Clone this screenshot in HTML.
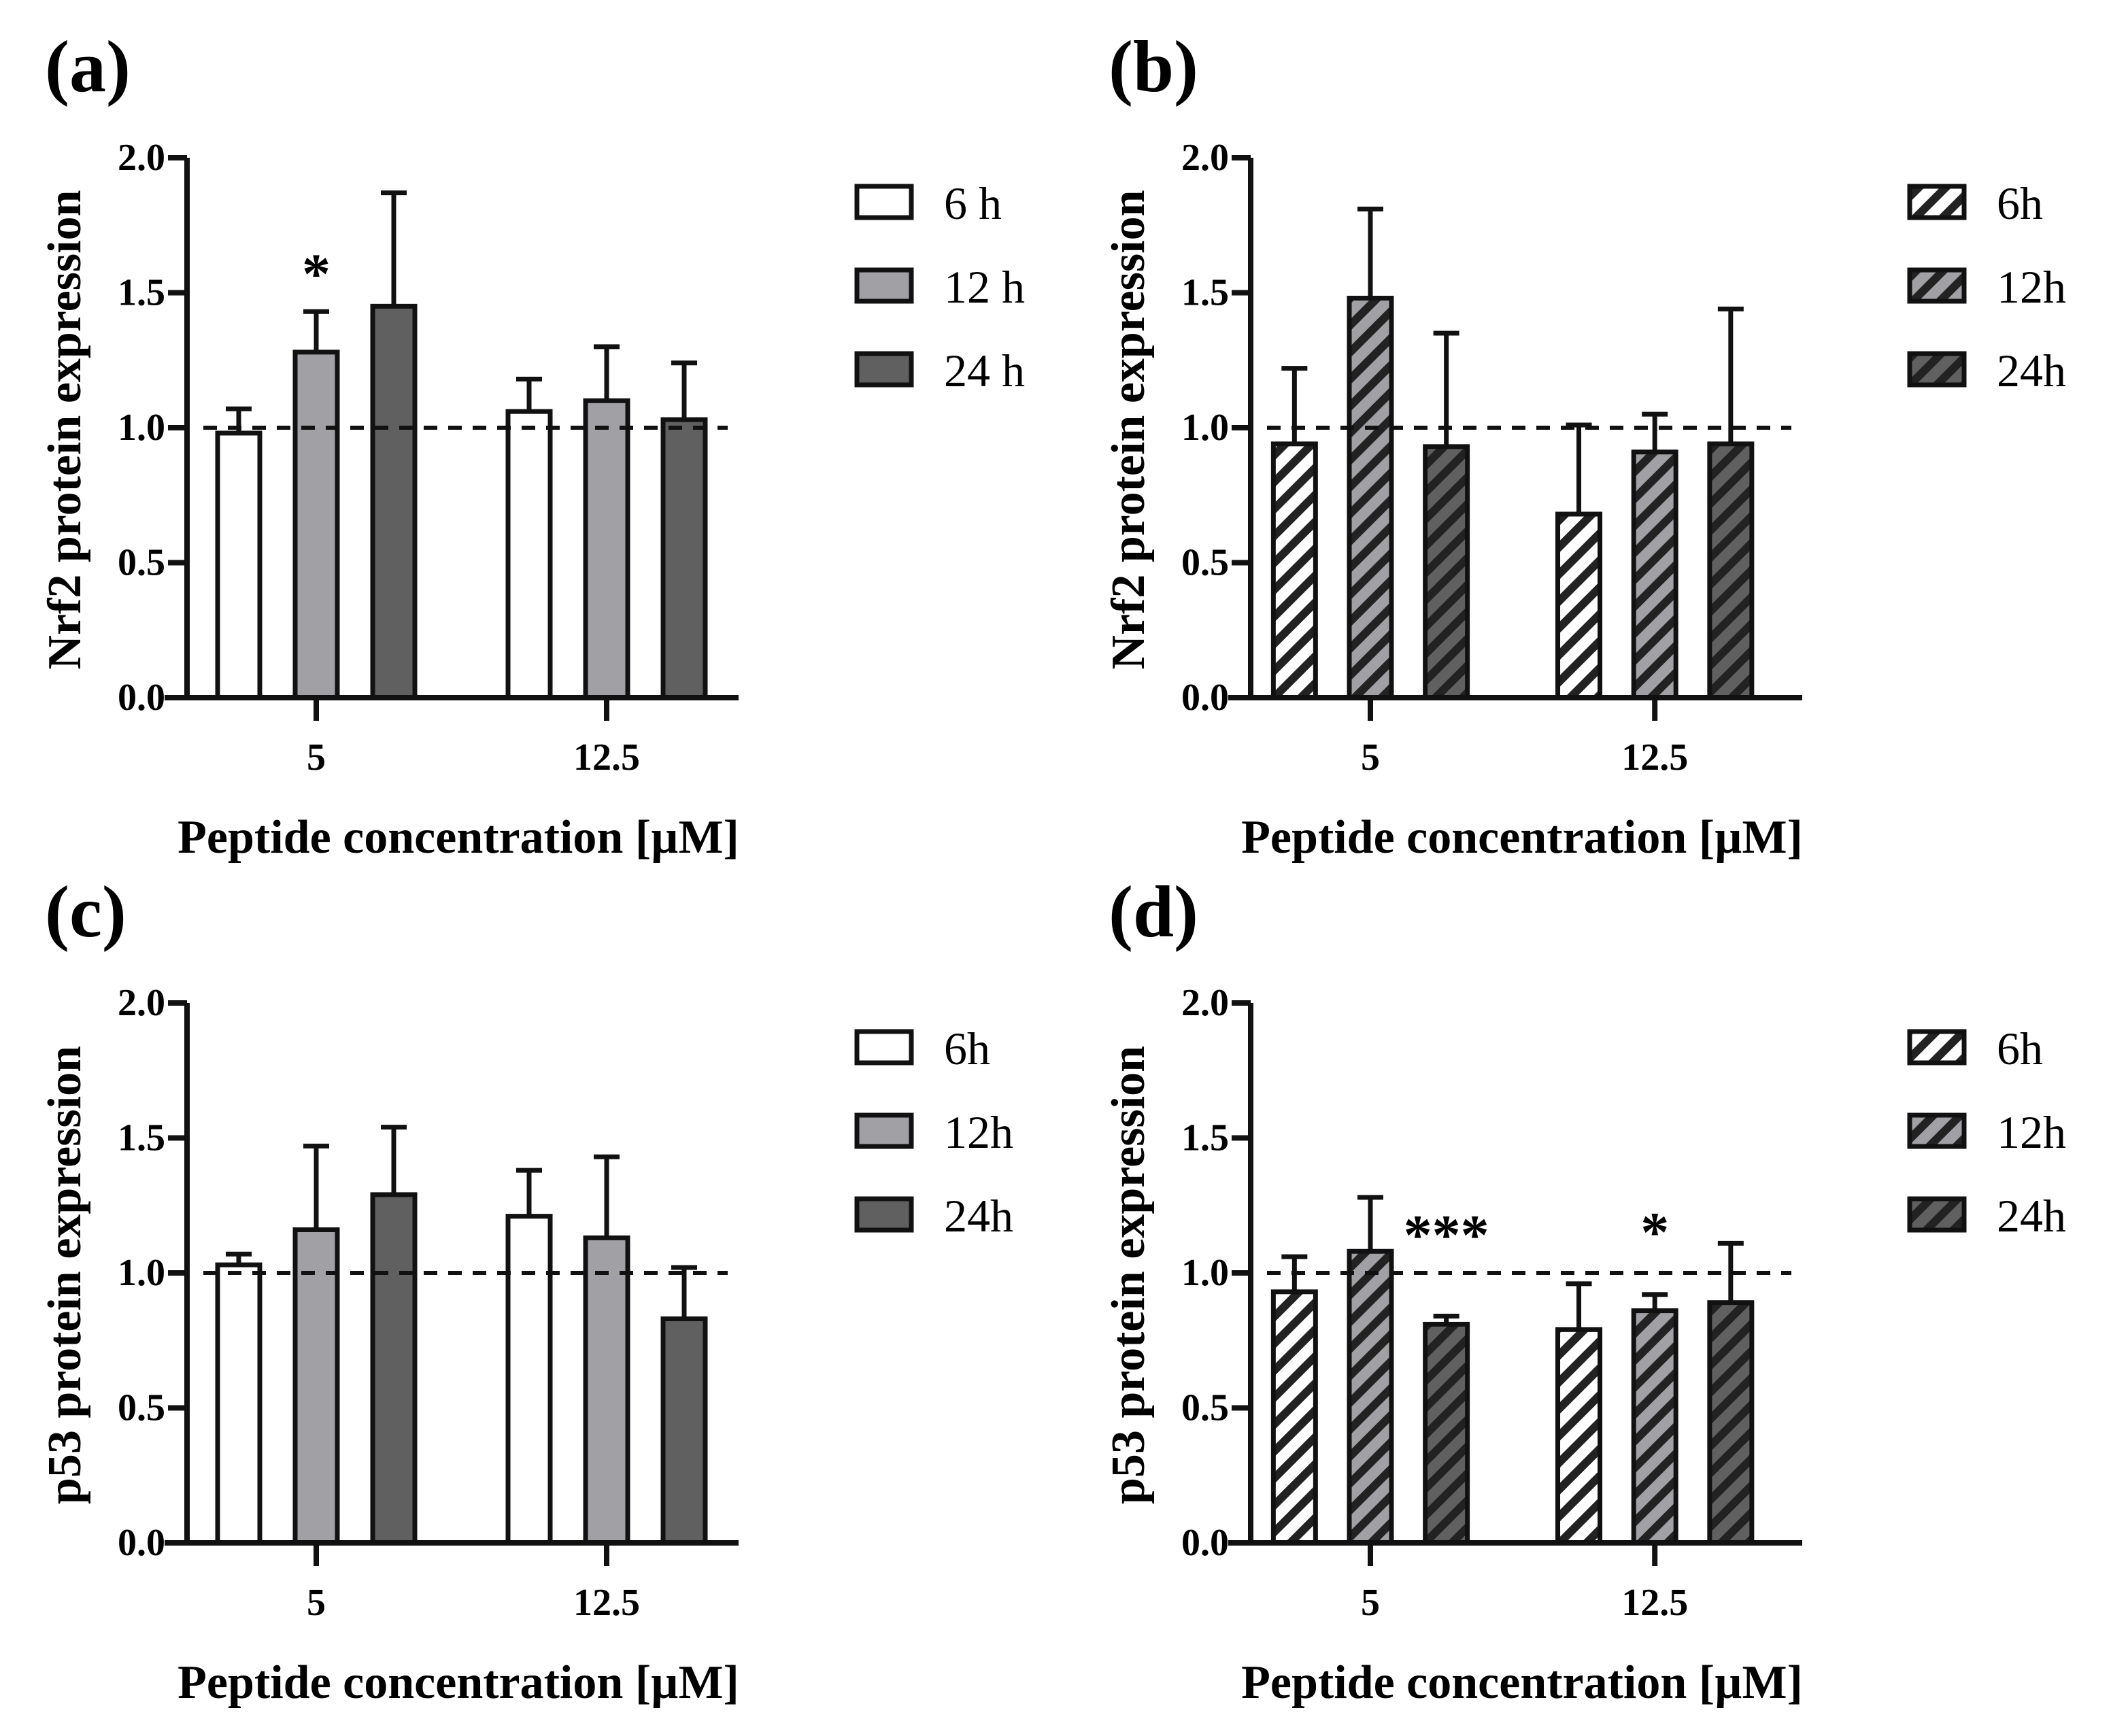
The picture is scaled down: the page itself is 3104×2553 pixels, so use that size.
<!DOCTYPE html>
<html><head><meta charset="utf-8">
<style>
html,body{margin:0;padding:0;background:#fff;}
svg{display:block;font-family:"Liberation Serif",serif;}
</style></head>
<body>
<svg id="fig" width="3104" height="2553" viewBox="0 0 1552 1276.5" xmlns="http://www.w3.org/2000/svg">
<defs>
<pattern id="h0" patternUnits="userSpaceOnUse" width="14" height="14" patternTransform="rotate(45)"><rect width="14" height="14" fill="#ffffff"/><rect width="6" height="14" fill="#222"/></pattern>
<pattern id="h1" patternUnits="userSpaceOnUse" width="14" height="14" patternTransform="rotate(45)"><rect width="14" height="14" fill="#a0a0a5"/><rect width="6" height="14" fill="#222"/></pattern>
<pattern id="h2" patternUnits="userSpaceOnUse" width="14" height="14" patternTransform="rotate(45)"><rect width="14" height="14" fill="#606060"/><rect width="6" height="14" fill="#222"/></pattern>
</defs>
</svg>
<script>
const categories = ["5", "12.5"];
const yTicks = [0.0, 0.5, 1.0, 1.5, 2.0];
const yTickLabels = ["0.0", "0.5", "1.0", "1.5", "2.0"];
const aMeans = [[0.98, 1.28, 1.45], [1.06, 1.10, 1.03]];
const aErr = [[1.07, 1.43, 1.87], [1.18, 1.30, 1.24]];
const bMeans = [[0.94, 1.48, 0.93], [0.68, 0.91, 0.94]];
const bErr = [[1.22, 1.81, 1.35], [1.01, 1.05, 1.44]];
const cMeans = [[1.03, 1.16, 1.29], [1.21, 1.13, 0.83]];
const cErr = [[1.07, 1.47, 1.54], [1.38, 1.43, 1.02]];
const dMeans = [[0.93, 1.08, 0.81], [0.79, 0.86, 0.89]];
const dErr = [[1.06, 1.28, 0.84], [0.96, 0.92, 1.11]];
const legendA = ["6 h", "12 h", "24 h"];
const legendOther = ["6h", "12h", "24h"];

const NS = "http://www.w3.org/2000/svg";
const svg = document.getElementById("fig");
function mk(tag, attrs, parent) {
  const e = document.createElementNS(NS, tag);
  for (const k in attrs) e.setAttribute(k, attrs[k]);
  (parent || svg).appendChild(e);
  return e;
}
const solid = ["#ffffff", "#a0a0a5", "#606060"];
const hatch = ["url(#h0)", "url(#h1)", "url(#h2)"];

function panel(ox, oy, label, ytitle, means, errs, fills, legend, stars, pname, gc, legX) {
  const g = mk("g", {});
  
  
  const axX = ox + 137.5, y0 = oy + 513, yTop = oy + 116;
  const y = v => y0 - (v / 2.0) * (y0 - yTop);
  const groupCenter = [ox + gc[0], ox + gc[1]];
  const sp = (gc[1] - gc[0]) * 57 / 213.5;
  const off = [-sp, 0, sp];
  const bw = 31;
  const lab = mk("text", {x: ox + 33, y: oy + 67, "font-size": 54, "font-weight": "bold"}, g);
  lab.textContent = label;
  
  
  means.forEach((grp, gi) => grp.forEach((v, si) => {
    const cx = groupCenter[gi] + off[si];
    const e = errs[gi][si];
    const eb = mk("path", {d: `M${cx},${y(v)} V${y(e)} M${cx - 9.5},${y(e)} H${cx + 9.5}`, stroke: "#111", "stroke-width": 3.5, fill: "none"}, g);
    
    
    const r = mk("rect", {x: cx - bw / 2, y: y(v), width: bw, height: y0 - y(v), fill: fills[si], stroke: "#111", "stroke-width": 3.5}, g);
    
    
  }));
  const dl = mk("line", {x1: axX + 12, x2: ox + 535, y1: y(1), y2: y(1), stroke: "#111", "stroke-width": 3, "stroke-dasharray": "10 8"}, g);
  
  
  const ax = mk("path", {d: `M${axX},${yTop} V${y0} M${ox + 121},${y0} H${ox + 543}`, stroke: "#111", "stroke-width": 4, fill: "none"}, g);
  
  
  yTicks.forEach((t, i) => {
    mk("line", {x1: axX - 14, x2: axX, y1: y(t), y2: y(t), stroke: "#111", "stroke-width": 4}, g);
    const tl = mk("text", {x: axX - 16, y: y(t) + 9, "font-size": 28, "font-weight": "bold", "text-anchor": "end"}, g);
    tl.textContent = yTickLabels[i];
    
    
  });
  categories.forEach((c, i) => {
    mk("line", {x1: groupCenter[i], x2: groupCenter[i], y1: y0, y2: y0 + 17, stroke: "#111", "stroke-width": 4}, g);
    const tl = mk("text", {x: groupCenter[i], y: y0 + 53, "font-size": 28, "font-weight": "bold", "text-anchor": "middle"}, g);
    tl.textContent = c;
    
    
  });
  const xt = mk("text", {x: ox + 337, y: y0 + 114, "font-size": 35, "font-weight": "bold", "text-anchor": "middle"}, g);
  xt.textContent = "Peptide concentration [\u00b5M]";
  
  
  const yt = mk("text", {x: 0, y: 0, "font-size": 35, "font-weight": "bold", "text-anchor": "middle", transform: `translate(${ox + 59},${oy + 316}) rotate(-90)`}, g);
  yt.textContent = ytitle;
  
  
  legend.forEach((t, i) => {
    const ly = oy + 137 + i * 61.5;
    const lx = ox + legX;
    const b = mk("rect", {x: lx, y: ly, width: 40, height: 23, fill: fills[i], stroke: "#111", "stroke-width": 3.5}, g);
    
    
    const tx = mk("text", {x: lx + 64, y: ly + 24, "font-size": 34}, g);
    tx.textContent = t;
    
    
  });
  stars.forEach(s => {
    const st = mk("text", {x: groupCenter[s.g] + off[s.s], y: y(s.v), "font-size": 42, "font-weight": "bold", "text-anchor": "middle"}, g);
    st.textContent = s.t;
    
    
  });
}
panel(0, 0, "(a)", "Nrf2 protein expression", aMeans, aErr, solid, legendA, [{g:0, s:1, v:1.50, t:"*"}], "panel-a", [232.5, 446], 630);
panel(782, 0, "(b)", "Nrf2 protein expression", bMeans, bErr, hatch, legendOther, [], "panel-b", [225.5, 434.6], 622);
panel(0, 621.5, "(c)", "p53 protein expression", cMeans, cErr, solid, legendOther, [], "panel-c", [232.5, 446], 630);
panel(782, 621.5, "(d)", "p53 protein expression", dMeans, dErr, hatch, legendOther, [{g:0, s:2, v:1.07, t:"***"}, {g:1, s:1, v:1.08, t:"*"}], "panel-d", [225.5, 434.6], 622);
</script>
</body></html>
